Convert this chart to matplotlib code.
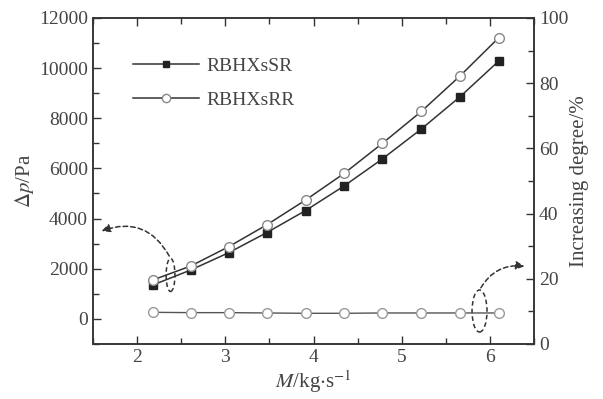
import matplotlib
matplotlib.use("Agg")
import matplotlib.pyplot as plt
from matplotlib.patches import Ellipse, FancyArrowPatch

# mass flow rate M (kg/s)
mass_flow = [2.18, 2.61, 3.04, 3.47, 3.91, 4.35, 4.78, 5.22, 5.66, 6.10]
# pressure drop (Pa)
dp_sr = [1350, 1950, 2640, 3440, 4320, 5310, 6380, 7570, 8860, 10290]
dp_rr = [1550, 2110, 2880, 3750, 4740, 5810, 7000, 8270, 9690, 11220]
# increasing degree (%)
inc_degree = [9.7, 9.6, 9.6, 9.5, 9.4, 9.4, 9.5, 9.5, 9.5, 9.5]

plt.rcParams['font.family'] = ['Liberation Serif', 'DejaVu Serif']
plt.rcParams['mathtext.fontset'] = 'stix'
plt.rcParams['font.size'] = 14

ink = '#333333'
txt = '#444444'

fig = plt.figure(figsize=(6.03, 3.99), dpi=100)
ax = fig.add_axes([0.154, 0.138, 0.732, 0.817])
ax2 = ax.twinx()

ax.plot(mass_flow, dp_sr, '-s', color=ink, lw=1.1, ms=5.2,
        mfc='#222222', mec='#222222', label='RBHXsSR')
ax.plot(mass_flow, dp_rr, '-o', color=ink, lw=1.1, ms=7,
        mfc='white', mec='#888888', mew=1.0, label='RBHXsRR')
ax2.plot(mass_flow, inc_degree, '-o', color='#555555', lw=1.0, ms=7,
         mfc='white', mec='#999999', mew=1.0)

ax.set_xlim(1.5, 6.5)
ax.set_ylim(-1000, 12000)
ax2.set_ylim(0, 100)
ax.set_xticks([2, 3, 4, 5, 6])
ax.set_xticks([1.5, 2.5, 3.5, 4.5, 5.5, 6.5], minor=True)
ax.set_yticks(range(0, 12001, 2000))
ax.set_yticks(range(-1000, 12001, 1000), minor=True)
ax2.set_yticks(range(0, 101, 20))
ax2.set_yticks(range(0, 101, 10), minor=True)

for a in (ax, ax2):
    for s in a.spines.values():
        s.set_color(ink)
        s.set_linewidth(1.1)
ax.tick_params(which='both', direction='in', colors=ink, labelcolor=txt,
               top=True, right=False)
ax.tick_params(which='major', length=6, width=1.0, labelsize=14)
ax.tick_params(which='minor', length=4, width=1.0)
ax2.tick_params(which='both', direction='in', colors=ink, labelcolor=txt)
ax2.tick_params(which='major', length=6, width=1.0, labelsize=14)
ax2.tick_params(which='minor', length=4, width=1.0)

ax.set_xlabel(r'$M$/kg$\cdot$s$^{-1}$', color=txt, fontsize=15, labelpad=2)
ax.set_ylabel(r'$\Delta p$/Pa', color=txt, fontsize=15, labelpad=2)
ax2.set_ylabel('Increasing degree/%', color=txt, fontsize=15, labelpad=1)

ax.legend(loc='upper left', bbox_to_anchor=(0.09, 0.88), frameon=False,
          handlelength=3.4, handletextpad=0.4, labelspacing=0.85,
          borderpad=0, borderaxespad=0, labelcolor=txt, fontsize=14,
          markerscale=0.85)

# dashed ellipses and curved arrows pointing to the matching axis
ax.add_patch(Ellipse((2.38, 1750), 0.1, 1320, fill=False, ls=(0, (3, 2)),
                     color=ink, lw=1.1))
ax.add_patch(FancyArrowPatch((2.38, 2410), (1.57, 3460),
                             connectionstyle='arc3,rad=0.45',
                             arrowstyle='-|>,head_length=5,head_width=2.5',
                             ls=(0, (3, 2)), color=ink, lw=1.1))
ax2.add_patch(Ellipse((5.88, 10.1), 0.17, 12.9, fill=False, ls=(0, (3, 2)),
                      color=ink, lw=1.1))
ax2.add_patch(FancyArrowPatch((5.88, 16.5), (6.42, 23.7),
                              connectionstyle='arc3,rad=-0.35',
                              arrowstyle='-|>,head_length=5,head_width=2.5',
                              ls=(0, (3, 2)), color=ink, lw=1.1))

fig.savefig('out.png', dpi=100)
